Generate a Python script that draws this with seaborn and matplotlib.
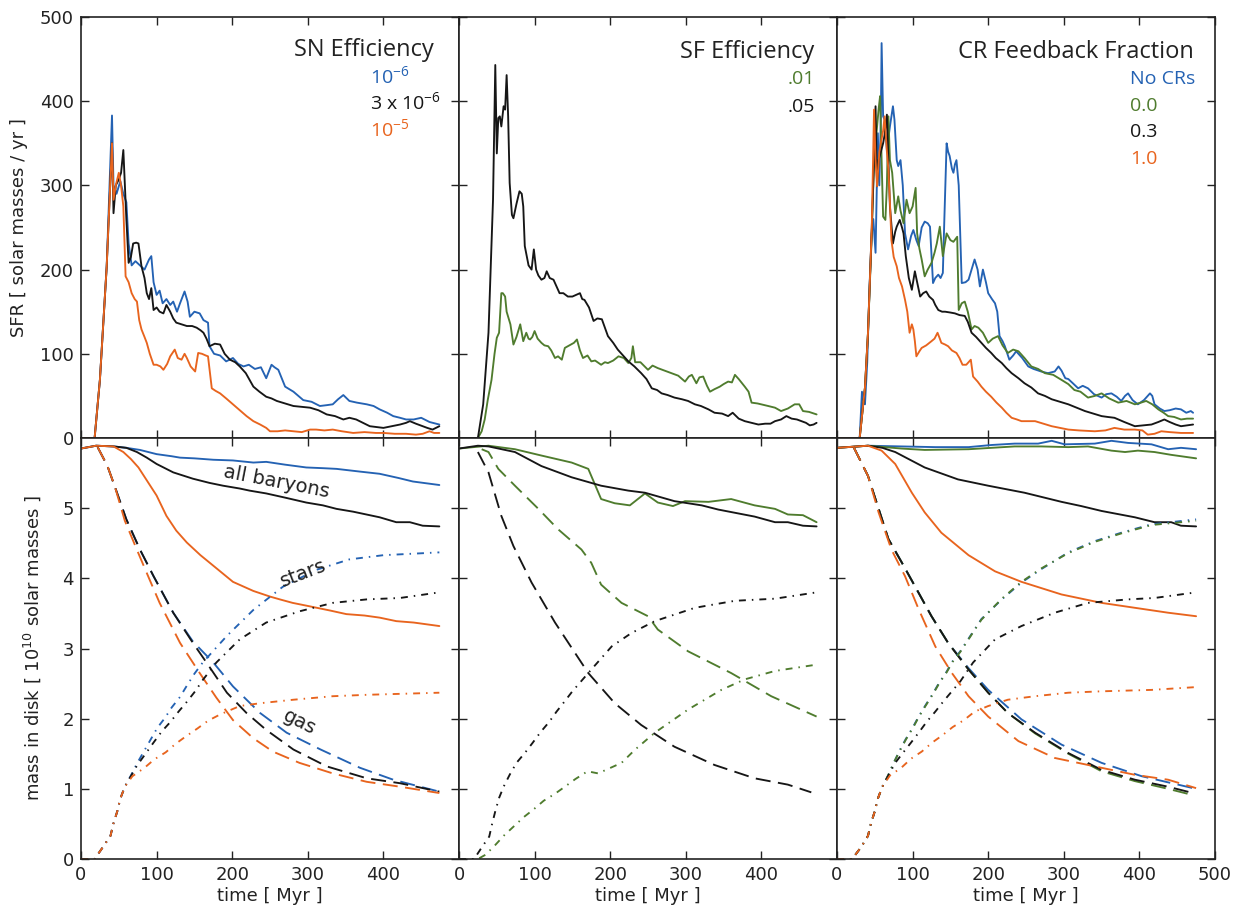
import matplotlib
matplotlib.use("Agg")
import matplotlib.pyplot as plt
import seaborn as sns

# ---------------- star formation rate [Msun/yr] vs time [Myr] ----------------
# SN efficiency runs
t_sfr_sn_1e6 = [0, 18, 25, 34, 41, 43, 47, 52, 56, 60, 63, 67, 72, 78, 84, 90, 93, 96, 100, 104,
                108, 113, 118, 122, 127, 131, 137, 141, 144, 150, 157, 162, 168, 170, 176, 184, 192,
                201, 208, 215, 222, 230, 238, 245, 252, 256, 261, 270, 281, 294, 305, 316, 325, 333,
                340, 347, 355, 365, 378, 387, 395, 405, 413, 422, 430, 440, 450, 461, 474]
sfr_sn_1e6 = [0, 0, 69, 204, 383, 300, 290, 305, 290, 280, 231, 205, 210, 205, 200, 212, 216, 185,
              170, 175, 160, 165, 158, 162, 150, 160, 174, 162, 144, 150, 148, 140, 137, 109, 100,
              98, 91, 95, 88, 85, 87, 82, 84, 71, 87, 84, 81, 61, 55, 45, 43, 38, 39, 40, 46, 51, 44,
              42, 40, 38, 34, 30, 26, 24, 22, 22, 24, 19, 16]

t_sfr_sn_3e6 = [0, 18, 25, 34, 41, 43, 46, 50, 53, 56, 60, 63, 66, 69, 73, 76, 80, 84, 87, 90, 93,
                96, 100, 104, 109, 113, 118, 122, 126, 133, 140, 147, 153, 158, 162, 166, 170, 177,
                184, 190, 197, 204, 210, 218, 228, 236, 245, 252, 259, 270, 281, 292, 303, 314, 325,
                336, 347, 355, 364, 373, 382, 391, 400, 411, 422, 430, 435, 443, 452, 458, 465, 474]
sfr_sn_3e6 = [0, 0, 69, 204, 350, 267, 300, 307, 315, 342, 260, 208, 215, 231, 232, 231, 204, 190,
              172, 165, 178, 152, 155, 150, 148, 158, 150, 142, 137, 135, 133, 133, 131, 128, 125,
              118, 109, 112, 111, 100, 93, 90, 85, 77, 61, 55, 49, 47, 44, 41, 38, 37, 36, 33, 28,
              26, 22, 24, 22, 18, 14, 13, 12, 14, 16, 18, 20, 17, 14, 12, 10, 14]

t_sfr_sn_1e5 = [0, 18, 25, 34, 41, 43, 46, 50, 53, 56, 59, 63, 67, 71, 74, 77, 80, 84, 87, 91, 96,
                100, 105, 109, 114, 118, 124, 128, 133, 137, 140, 145, 151, 155, 160, 165, 168, 173,
                178, 184, 192, 201, 210, 219, 228, 237, 245, 250, 260, 270, 281, 292, 303, 311, 322,
                333, 345, 360, 375, 390, 400, 415, 430, 443, 452, 461, 467, 474]
sfr_sn_1e5 = [0, 0, 69, 204, 350, 283, 300, 315, 300, 275, 192, 185, 172, 165, 162, 140, 129, 120,
              113, 100, 87, 87, 85, 81, 88, 97, 105, 95, 93, 100, 95, 85, 79, 101, 100, 98, 97, 59,
              56, 53, 47, 40, 33, 26, 20, 16, 12, 8, 8, 9, 8, 7, 10, 10, 9, 10, 8, 6, 7, 6, 6, 5, 5,
              4, 5, 8, 6, 6]

# SF efficiency runs
t_sfr_sf_05 = [0, 25, 32, 39, 45, 48, 50, 52, 54, 56, 59, 61, 63, 65, 67, 70, 72, 76, 80, 83, 85,
               87, 92, 96, 99, 102, 105, 109, 113, 116, 120, 125, 129, 133, 138, 144, 150, 155, 160,
               163, 166, 172, 178, 183, 189, 197, 204, 210, 217, 224, 232, 241, 248, 255, 262, 268,
               276, 285, 295, 303, 312, 320, 330, 338, 348, 356, 362, 370, 378, 387, 396, 405, 412,
               418, 426, 433, 440, 447, 453, 459, 464, 469, 473]
sfr_sf_05 = [0, 0, 40, 125, 283, 443, 338, 380, 382, 370, 394, 390, 431, 382, 303, 265, 261, 278,
             293, 290, 275, 228, 205, 200, 224, 200, 193, 188, 190, 198, 190, 188, 180, 172, 172,
             168, 168, 170, 172, 165, 164, 155, 139, 142, 141, 121, 113, 105, 98, 91, 85, 77, 70,
             59, 57, 53, 51, 48, 46, 44, 40, 38, 34, 30, 29, 26, 30, 23, 20, 18, 16, 17, 17, 20, 22,
             26, 23, 22, 20, 18, 15, 16, 18]

t_sfr_sf_01 = [0, 25, 30, 34, 38, 43, 47, 50, 53, 56, 58, 61, 63, 65, 68, 72, 76, 81, 83, 85, 89,
               92, 94, 97, 100, 104, 109, 113, 118, 122, 127, 131, 136, 140, 146, 152, 156, 160, 164,
               170, 175, 180, 188, 193, 197, 204, 211, 218, 224, 228, 230, 233, 240, 250, 256, 263,
               272, 281, 290, 299, 304, 308, 314, 318, 323, 328, 332, 338, 345, 350, 356, 361, 365,
               370, 378, 383, 387, 395, 409, 418, 426, 435, 444, 450, 455, 463, 473]
sfr_sf_01 = [0, 0, 8, 22, 45, 69, 100, 119, 125, 172, 172, 168, 150, 144, 135, 111, 120, 135, 125,
             115, 125, 118, 117, 120, 127, 118, 113, 110, 109, 104, 95, 97, 93, 107, 110, 113, 117,
             104, 95, 98, 91, 92, 87, 90, 89, 92, 97, 95, 89, 95, 109, 90, 90, 81, 86, 83, 80, 77,
             74, 67, 73, 75, 65, 72, 73, 62, 55, 58, 61, 64, 67, 66, 75, 70, 61, 55, 42, 41, 38, 36,
             32, 35, 40, 40, 32, 31, 28]

# CR feedback fraction runs
t_sfr_cr_none = [0, 30, 33, 35, 37, 40, 43, 46, 48, 51, 54, 56, 58, 59, 61, 63, 66, 70, 74, 76, 79,
                 81, 84, 87, 90, 94, 98, 101, 105, 108, 112, 116, 120, 123, 127, 130, 134, 137, 140,
                 142, 145, 147, 149, 152, 154, 156, 158, 161, 165, 170, 174, 178, 182, 186, 189,
                 193, 197, 200, 205, 209, 212, 215, 219, 222, 228, 233, 237, 245, 253, 260, 270,
                 279, 288, 293, 297, 302, 306, 312, 319, 325, 332, 340, 350, 356, 363, 370, 376,
                 381, 385, 391, 398, 406, 414, 417, 420, 427, 433, 440, 448, 455, 462, 468, 471]
sfr_cr_none = [0, 0, 55, 45, 40, 90, 180, 243, 260, 220, 362, 300, 380, 469, 382, 378, 342, 370,
               394, 378, 330, 323, 330, 300, 243, 224, 240, 247, 235, 228, 250, 257, 255, 251, 184,
               190, 194, 190, 196, 260, 350, 340, 335, 320, 315, 325, 330, 300, 184, 185, 188, 200,
               212, 200, 180, 200, 185, 172, 165, 160, 150, 121, 115, 109, 93, 98, 103, 95, 85, 82,
               79, 77, 79, 85, 80, 71, 70, 65, 59, 62, 59, 52, 48, 52, 53, 49, 44, 50, 53, 45, 40,
               45, 53, 50, 40, 35, 32, 33, 35, 34, 30, 32, 30]

t_sfr_cr_00 = [0, 30, 37, 41, 46, 49, 52, 55, 57, 59, 61, 64, 66, 68, 70, 73, 77, 81, 84, 88, 92,
               96, 100, 104, 106, 109, 112, 116, 120, 125, 129, 132, 136, 140, 145, 150, 154, 159,
               161, 165, 169, 173, 178, 182, 187, 193, 200, 206, 213, 219, 226, 233, 240, 248, 257,
               266, 275, 286, 297, 306, 314, 322, 332, 341, 350, 360, 372, 383, 394, 402, 409, 417,
               425, 432, 438, 446, 455, 463, 471]
sfr_cr_00 = [0, 0, 60, 125, 243, 330, 360, 390, 406, 330, 263, 259, 300, 382, 330, 315, 267, 287,
             270, 255, 283, 267, 275, 297, 243, 225, 212, 192, 200, 208, 220, 231, 251, 216, 243,
             235, 233, 239, 152, 160, 162, 150, 129, 133, 131, 125, 113, 118, 121, 110, 101, 105,
             103, 95, 85, 82, 77, 75, 69, 64, 57, 55, 48, 50, 53, 47, 42, 44, 40, 42, 44, 40, 34,
             30, 26, 25, 22, 23, 23]

t_sfr_cr_03 = [0, 30, 37, 41, 46, 49, 51, 53, 55, 58, 61, 63, 66, 68, 70, 74, 77, 79, 83, 86, 88,
               91, 95, 99, 103, 106, 110, 114, 118, 122, 127, 130, 134, 139, 143, 150, 156, 162, 169,
               173, 178, 184, 191, 197, 204, 210, 218, 224, 231, 240, 248, 257, 266, 275, 284, 295,
               306, 317, 328, 339, 350, 358, 367, 380, 394, 405, 416, 425, 433, 440, 448, 455, 463,
               471]
sfr_cr_03 = [0, 0, 60, 125, 250, 330, 394, 299, 330, 340, 350, 360, 384, 330, 275, 231, 245, 251,
             259, 250, 243, 216, 190, 176, 198, 185, 168, 172, 174, 168, 164, 158, 152, 150, 150,
             149, 148, 146, 145, 138, 125, 120, 113, 107, 101, 95, 89, 83, 77, 71, 65, 60, 53, 50,
             46, 43, 40, 36, 32, 29, 26, 25, 24, 19, 14, 15, 16, 19, 22, 19, 16, 14, 15, 16]

t_sfr_cr_10 = [0, 30, 37, 41, 46, 49, 51, 53, 56, 58, 61, 63, 66, 68, 70, 72, 75, 79, 82, 86, 90,
               93, 96, 99, 101, 103, 105, 109, 112, 118, 125, 129, 133, 136, 138, 143, 147, 152, 158,
               162, 166, 171, 174, 177, 180, 186, 191, 197, 204, 211, 218, 224, 231, 238, 244, 253,
               262, 273, 284, 295, 306, 320, 341, 355, 367, 380, 394, 404, 411, 420, 429, 440, 455,
               471]
sfr_cr_10 = [0, 0, 60, 125, 250, 390, 330, 299, 340, 350, 365, 382, 340, 319, 280, 235, 215, 204,
             190, 180, 164, 150, 125, 135, 129, 115, 97, 103, 107, 110, 115, 118, 125, 118, 113, 111,
             109, 104, 101, 95, 87, 87, 90, 93, 73, 67, 61, 55, 49, 42, 36, 30, 24, 22, 20, 20, 20,
             17, 14, 12, 10, 9, 8, 9, 12, 10, 10, 9, 4, 5, 8, 7, 6, 6]

# ---------------- disk mass [1e10 Msun] vs time [Myr] ----------------
# SN efficiency: all baryons (solid), gas (dashed), stars (dash-dot)
t_bar_sn_1e6 = [0, 20, 43, 60, 78, 100, 120, 131, 150, 175, 201, 228, 245, 270, 298, 320, 338, 370,
                395, 420, 439, 474]
bar_sn_1e6 = [5.85, 5.89, 5.88, 5.86, 5.83, 5.77, 5.74, 5.72, 5.71, 5.69, 5.68, 5.65, 5.66, 5.62,
              5.58, 5.57, 5.56, 5.52, 5.49, 5.43, 5.38, 5.33]
t_bar_sn_3e6 = [0, 20, 43, 60, 74, 87, 100, 122, 148, 170, 188, 210, 223, 245, 270, 298, 320, 338,
                360, 395, 417, 435, 452, 474]
bar_sn_3e6 = [5.85, 5.89, 5.88, 5.86, 5.80, 5.72, 5.63, 5.51, 5.42, 5.36, 5.32, 5.28, 5.25, 5.21,
              5.15, 5.08, 5.04, 4.99, 4.95, 4.87, 4.80, 4.80, 4.75, 4.74]
t_bar_sn_1e5 = [0, 20, 43, 56, 66, 76, 88, 100, 113, 126, 140, 158, 175, 201, 228, 250, 263, 280,
                303, 330, 351, 375, 395, 417, 440, 474]
bar_sn_1e5 = [5.85, 5.89, 5.88, 5.80, 5.70, 5.58, 5.38, 5.18, 4.89, 4.68, 4.51, 4.33, 4.18, 3.95,
              3.82, 3.74, 3.70, 3.65, 3.60, 3.54, 3.49, 3.47, 3.44, 3.39, 3.37, 3.32]

t_gas_sn_1e6 = [22, 35, 45, 60, 78, 96, 122, 148, 175, 201, 237, 272, 317, 369, 413, 474]
gas_sn_1e6 = [5.87, 5.60, 5.30, 4.84, 4.41, 4.03, 3.51, 3.10, 2.80, 2.46, 2.08, 1.80, 1.56, 1.30,
              1.13, 0.96]
t_gas_sn_3e6 = [22, 35, 45, 60, 78, 96, 122, 148, 166, 193, 219, 245, 281, 325, 378, 422, 474]
gas_sn_3e6 = [5.87, 5.60, 5.30, 4.84, 4.41, 4.03, 3.51, 3.08, 2.80, 2.37, 2.08, 1.84, 1.56, 1.32,
              1.15, 1.08, 0.96]
t_gas_sn_1e5 = [22, 35, 45, 58, 75, 90, 104, 131, 157, 179, 201, 228, 254, 289, 333, 378, 422, 474]
gas_sn_1e5 = [5.87, 5.60, 5.30, 4.82, 4.38, 4.00, 3.65, 3.08, 2.65, 2.30, 1.98, 1.72, 1.53, 1.37,
              1.22, 1.10, 1.03, 0.94]

t_star_sn_1e6 = [0, 18, 29, 39, 43, 48, 52, 58, 66, 74, 83, 92, 101, 111, 120, 131, 140, 150, 161,
                 193, 228, 267, 311, 355, 400, 474]
star_sn_1e6 = [0, 0, 0.17, 0.33, 0.51, 0.68, 0.86, 1.03, 1.19, 1.36, 1.53, 1.70, 1.87, 2.01, 2.16,
               2.31, 2.47, 2.64, 2.80, 3.18, 3.55, 3.88, 4.12, 4.27, 4.33, 4.37]
t_star_sn_3e6 = [0, 18, 29, 39, 43, 48, 52, 58, 74, 86, 96, 107, 118, 129, 140, 151, 161, 179, 210,
                 245, 289, 333, 378, 422, 474]
star_sn_3e6 = [0, 0, 0.17, 0.33, 0.51, 0.68, 0.86, 1.03, 1.33, 1.51, 1.66, 1.82, 1.95, 2.10, 2.24,
               2.39, 2.55, 2.80, 3.13, 3.37, 3.53, 3.65, 3.70, 3.72, 3.80]
t_star_sn_1e5 = [0, 18, 29, 39, 43, 48, 52, 58, 68, 84, 97, 112, 125, 139, 154, 168, 184, 210, 237,
                 281, 333, 378, 474]
star_sn_1e5 = [0, 0, 0.17, 0.33, 0.51, 0.68, 0.86, 1.03, 1.18, 1.30, 1.42, 1.52, 1.64, 1.75, 1.86,
               1.97, 2.06, 2.18, 2.22, 2.27, 2.32, 2.34, 2.37]

# SF efficiency
t_bar_sf_05 = [0, 25, 39, 74, 109, 149, 188, 224, 246, 285, 321, 343, 391, 418, 435, 455, 473]
bar_sf_05 = [5.85, 5.89, 5.88, 5.80, 5.60, 5.44, 5.32, 5.25, 5.22, 5.10, 5.04, 4.98, 4.88, 4.80,
             4.80, 4.75, 4.74]
t_bar_sf_01 = [0, 39, 74, 109, 149, 171, 188, 206, 226, 246, 263, 283, 299, 330, 360, 391, 418,
               435, 455, 473]
bar_sf_01 = [5.85, 5.89, 5.84, 5.75, 5.65, 5.56, 5.13, 5.07, 5.04, 5.21, 5.08, 5.03, 5.10, 5.09,
             5.13, 5.04, 4.99, 4.91, 4.90, 4.80]
t_gas_sf_05 = [25, 39, 56, 72, 96, 127, 171, 206, 241, 285, 338, 391, 435, 466]
gas_sf_05 = [5.80, 5.51, 4.89, 4.46, 3.94, 3.37, 2.65, 2.22, 1.91, 1.60, 1.34, 1.15, 1.06, 0.95]
t_gas_sf_01 = [30, 39, 52, 74, 105, 131, 162, 175, 188, 215, 250, 263, 303, 360, 413, 473]
gas_sf_01 = [5.84, 5.80, 5.56, 5.32, 4.99, 4.70, 4.41, 4.22, 3.91, 3.65, 3.46, 3.27, 2.96, 2.65,
             2.32, 2.03]
t_star_sf_05 = [0, 20, 31, 40, 44, 48, 53, 59, 67, 76, 87, 97, 108, 119, 129, 140, 150, 175, 202,
                228, 259, 312, 365, 418, 473]
star_sf_05 = [0, 0, 0.18, 0.32, 0.51, 0.68, 0.87, 1.03, 1.20, 1.37, 1.51, 1.65, 1.81, 1.95, 2.10,
              2.25, 2.39, 2.70, 3.03, 3.22, 3.39, 3.58, 3.68, 3.71, 3.80]
t_star_sf_01 = [0, 25, 35, 48, 60, 73, 86, 99, 112, 127, 140, 154, 170, 184, 215, 233, 259, 303,
                347, 378, 418, 473]
star_sf_01 = [0, 0, 0.06, 0.20, 0.34, 0.47, 0.60, 0.71, 0.83, 0.93, 1.03, 1.14, 1.25, 1.22, 1.37,
              1.56, 1.80, 2.13, 2.41, 2.56, 2.68, 2.77]

# CR feedback fraction
t_bar_cr_none = [0, 41, 85, 130, 174, 204, 235, 266, 284, 301, 341, 363, 385, 416, 438, 455, 475]
bar_cr_none = [5.86, 5.89, 5.88, 5.87, 5.87, 5.90, 5.92, 5.92, 5.96, 5.91, 5.92, 5.96, 5.93, 5.91,
               5.84, 5.86, 5.84]
t_bar_cr_00 = [0, 41, 85, 116, 174, 235, 270, 306, 332, 363, 381, 398, 420, 442, 475]
bar_cr_00 = [5.86, 5.89, 5.85, 5.83, 5.84, 5.88, 5.88, 5.87, 5.88, 5.82, 5.80, 5.82, 5.80, 5.76,
             5.71]
t_bar_cr_03 = [0, 41, 60, 77, 116, 160, 200, 248, 297, 323, 350, 394, 420, 442, 455, 475]
bar_cr_03 = [5.86, 5.89, 5.86, 5.80, 5.58, 5.41, 5.32, 5.22, 5.09, 5.03, 4.96, 4.87, 4.80, 4.80,
             4.75, 4.74]
t_bar_cr_10 = [0, 41, 59, 77, 99, 116, 138, 174, 209, 244, 297, 350, 394, 438, 475]
bar_cr_10 = [5.86, 5.89, 5.82, 5.63, 5.22, 4.94, 4.65, 4.33, 4.10, 3.95, 3.77, 3.65, 3.58, 3.51,
             3.46]

t_gas_cr_none = [22, 41, 68, 86, 103, 125, 147, 174, 200, 244, 297, 350, 403, 471]
gas_cr_none = [5.87, 5.46, 4.56, 4.22, 3.89, 3.46, 3.08, 2.72, 2.41, 1.99, 1.63, 1.37, 1.18, 1.01]
t_gas_cr_00 = [22, 41, 68, 86, 103, 125, 147, 174, 200, 226, 262, 306, 350, 394, 438, 471]
gas_cr_00 = [5.87, 5.46, 4.56, 4.22, 3.89, 3.46, 3.08, 2.70, 2.37, 2.08, 1.79, 1.50, 1.25, 1.11,
             1.00, 0.91]
t_gas_cr_03 = [22, 41, 68, 86, 103, 125, 147, 174, 200, 226, 262, 306, 350, 394, 438, 471]
gas_cr_03 = [5.87, 5.46, 4.56, 4.22, 3.89, 3.46, 3.08, 2.70, 2.37, 2.08, 1.80, 1.51, 1.27, 1.13,
             1.03, 0.94]
t_gas_cr_10 = [22, 41, 55, 72, 90, 108, 130, 152, 174, 200, 240, 288, 341, 394, 438, 475]
gas_cr_10 = [5.87, 5.46, 4.94, 4.41, 4.03, 3.56, 3.03, 2.65, 2.32, 2.03, 1.68, 1.44, 1.32, 1.20,
             1.13, 1.01]

t_star_cr_none = [0, 20, 32, 41, 45, 50, 54, 60, 68, 75, 83, 91, 100, 108, 117, 127, 135, 145, 153,
                  163, 191, 218, 244, 270, 306, 341, 376, 416, 475]
star_cr_none = [0, 0, 0.17, 0.33, 0.51, 0.68, 0.86, 1.03, 1.20, 1.37, 1.55, 1.71, 1.87, 2.03, 2.19,
                2.36, 2.51, 2.67, 2.82, 2.96, 3.42, 3.70, 3.94, 4.13, 4.37, 4.53, 4.65, 4.77, 4.84]
t_star_cr_00 = [0, 20, 32, 41, 45, 50, 54, 60, 68, 75, 83, 91, 100, 108, 117, 127, 135, 145, 153,
                163, 191, 218, 244, 270, 306, 341, 376, 416, 475]
star_cr_00 = [0, 0, 0.17, 0.33, 0.51, 0.68, 0.86, 1.03, 1.20, 1.37, 1.54, 1.70, 1.86, 2.02, 2.18,
              2.35, 2.50, 2.66, 2.81, 2.95, 3.41, 3.71, 3.95, 4.14, 4.36, 4.52, 4.64, 4.76, 4.82]
t_star_cr_03 = [0, 20, 32, 41, 45, 50, 54, 60, 77, 87, 98, 108, 119, 130, 141, 152, 163, 180, 209,
                244, 288, 332, 385, 420, 475]
star_cr_03 = [0, 0, 0.17, 0.33, 0.51, 0.68, 0.86, 1.03, 1.37, 1.51, 1.66, 1.80, 1.96, 2.10, 2.25,
              2.39, 2.53, 2.80, 3.13, 3.32, 3.51, 3.65, 3.70, 3.72, 3.80]
t_star_cr_10 = [0, 20, 32, 41, 45, 50, 54, 60, 70, 85, 98, 112, 126, 139, 153, 168, 182, 200, 226,
                262, 306, 350, 416, 475]
star_cr_10 = [0, 0, 0.17, 0.33, 0.51, 0.68, 0.86, 1.03, 1.19, 1.30, 1.43, 1.53, 1.66, 1.76, 1.88,
              1.98, 2.10, 2.18, 2.27, 2.32, 2.37, 2.39, 2.41, 2.45]

# ---------------- styling ----------------
BLUE = "#2462b3"
BLACK = "#161616"
ORANGE = "#e8641e"
GREEN = "#4f7c2e"
LW = 1.35
SOLID = "-"
DASHED = (0, (8, 4))
DASHDOT = (0, (3.7, 3.2, 0.8, 3.2))

sns.set_style("ticks")
plt.rcParams.update({
    "font.family": ["DejaVu Sans"],
    "font.size": 12,
    "axes.linewidth": 1.2,
    "axes.edgecolor": "#222222",
    "xtick.direction": "in",
    "ytick.direction": "in",
    "xtick.top": True,
    "ytick.right": True,
    "xtick.major.size": 6,
    "ytick.major.size": 6,
    "xtick.major.width": 1.0,
    "ytick.major.width": 1.0,
    "xtick.labelsize": 13,
    "ytick.labelsize": 13,
    "xtick.major.pad": 5,
    "ytick.major.pad": 5,
    "xtick.color": "#222222",
    "ytick.color": "#222222",
})

LEGEND_FONT = ["Open Sans", "DejaVu Sans"]

fig, axes = plt.subplots(2, 3, figsize=(12.36, 9.07), dpi=100)
fig.subplots_adjust(left=81 / 1236, right=1215 / 1236, top=1 - 17 / 907, bottom=1 - 859 / 907,
                    hspace=0, wspace=0)


def draw(ax, t, v, color, ls=SOLID):
    sns.lineplot(x=t, y=v, ax=ax, color=color, linestyle=ls, linewidth=LW,
                 estimator=None, sort=False)


# top row: SFR
draw(axes[0, 0], t_sfr_sn_1e6, sfr_sn_1e6, BLUE)
draw(axes[0, 0], t_sfr_sn_3e6, sfr_sn_3e6, BLACK)
draw(axes[0, 0], t_sfr_sn_1e5, sfr_sn_1e5, ORANGE)

draw(axes[0, 1], t_sfr_sf_01, sfr_sf_01, GREEN)
draw(axes[0, 1], t_sfr_sf_05, sfr_sf_05, BLACK)

draw(axes[0, 2], t_sfr_cr_none, sfr_cr_none, BLUE)
draw(axes[0, 2], t_sfr_cr_00, sfr_cr_00, GREEN)
draw(axes[0, 2], t_sfr_cr_03, sfr_cr_03, BLACK)
draw(axes[0, 2], t_sfr_cr_10, sfr_cr_10, ORANGE)

# bottom row: disk mass components
ax = axes[1, 0]
for t, v, c in [(t_bar_sn_1e6, bar_sn_1e6, BLUE), (t_bar_sn_3e6, bar_sn_3e6, BLACK),
                (t_bar_sn_1e5, bar_sn_1e5, ORANGE)]:
    draw(ax, t, v, c, SOLID)
for t, v, c in [(t_gas_sn_1e6, gas_sn_1e6, BLUE), (t_gas_sn_3e6, gas_sn_3e6, BLACK),
                (t_gas_sn_1e5, gas_sn_1e5, ORANGE)]:
    draw(ax, t, v, c, DASHED)
for t, v, c in [(t_star_sn_1e6, star_sn_1e6, BLUE), (t_star_sn_3e6, star_sn_3e6, BLACK),
                (t_star_sn_1e5, star_sn_1e5, ORANGE)]:
    draw(ax, t, v, c, DASHDOT)

ax = axes[1, 1]
draw(ax, t_bar_sf_01, bar_sf_01, GREEN, SOLID)
draw(ax, t_bar_sf_05, bar_sf_05, BLACK, SOLID)
draw(ax, t_gas_sf_01, gas_sf_01, GREEN, DASHED)
draw(ax, t_gas_sf_05, gas_sf_05, BLACK, DASHED)
draw(ax, t_star_sf_01, star_sf_01, GREEN, DASHDOT)
draw(ax, t_star_sf_05, star_sf_05, BLACK, DASHDOT)

ax = axes[1, 2]
for t, v, c in [(t_bar_cr_none, bar_cr_none, BLUE), (t_bar_cr_00, bar_cr_00, GREEN),
                (t_bar_cr_03, bar_cr_03, BLACK), (t_bar_cr_10, bar_cr_10, ORANGE)]:
    draw(ax, t, v, c, SOLID)
for t, v, c in [(t_gas_cr_none, gas_cr_none, BLUE), (t_gas_cr_00, gas_cr_00, GREEN),
                (t_gas_cr_03, gas_cr_03, BLACK), (t_gas_cr_10, gas_cr_10, ORANGE)]:
    draw(ax, t, v, c, DASHED)
for t, v, c in [(t_star_cr_none, star_cr_none, BLUE), (t_star_cr_00, star_cr_00, GREEN),
                (t_star_cr_03, star_cr_03, BLACK), (t_star_cr_10, star_cr_10, ORANGE)]:
    draw(ax, t, v, c, DASHDOT)

# component labels
ax = axes[1, 0]
ax.text(258, 5.37, "all baryons", rotation=-11, ha="center", va="center", fontsize=14,
        color="#222222")
ax.text(294, 4.07, "stars", rotation=21, ha="center", va="center", fontsize=14, color="#222222")
ax.text(289, 1.95, "gas", rotation=-27, ha="center", va="center", fontsize=14, color="#222222")

# axes limits, ticks, labels
xt = [0, 100, 200, 300, 400, 500]
for r in range(2):
    for c in range(3):
        ax = axes[r, c]
        ax.set_xlim(0, 500)
        ax.set_xticks(xt)
        if r == 0:
            ax.set_ylim(0, 500)
            ax.set_yticks([0, 100, 200, 300, 400, 500])
            ax.set_xticklabels([])
            ax.set_xlabel("")
        else:
            ax.set_ylim(0, 6.0)
            ax.set_yticks([0, 1, 2, 3, 4, 5])
            labs = [str(v) for v in xt]
            if c < 2:
                labs[-1] = ""
            ax.set_xticklabels(labs)
            ax.set_xlabel("time [ Myr ]", fontsize=13, color="#222222", labelpad=2)
        if c > 0:
            ax.set_yticklabels([])
            ax.set_ylabel("")

axes[0, 0].set_ylabel("SFR [ solar masses / yr ]", fontsize=13, color="#222222", labelpad=9)
axes[1, 0].set_ylabel("mass in disk [ 10$^{10}$ solar masses ]", fontsize=13, color="#222222",
                      labelpad=14)


def key(ax, title, entries, x_title, y_title, x_ent, y_ents):
    ax.text(x_title, y_title, title, transform=ax.transAxes, ha="right", va="center",
            fontsize=17, color="#222222", family=LEGEND_FONT)
    for (label, color), y in zip(entries, y_ents):
        ax.text(x_ent, y, label, transform=ax.transAxes, ha="left", va="center",
                fontsize=14, color=color, family=LEGEND_FONT)


key(axes[0, 0], "SN Efficiency",
    [("10$^{\\mathregular{-6}}$", BLUE), ("3 x 10$^{\\mathregular{-6}}$", BLACK),
     ("10$^{\\mathregular{-5}}$", ORANGE)],
    0.934, 0.922, 0.765, [0.857, 0.796, 0.732])
key(axes[0, 1], "SF Efficiency", [(".01", GREEN), (".05", BLACK)],
    0.939, 0.917, 0.870, [0.853, 0.786])
key(axes[0, 2], "CR Feedback Fraction",
    [("No CRs", BLUE), ("0.0", GREEN), ("0.3", BLACK), ("1.0", ORANGE)],
    0.944, 0.917, 0.775, [0.853, 0.789, 0.727, 0.663])

fig.savefig("out.png", dpi=100)
